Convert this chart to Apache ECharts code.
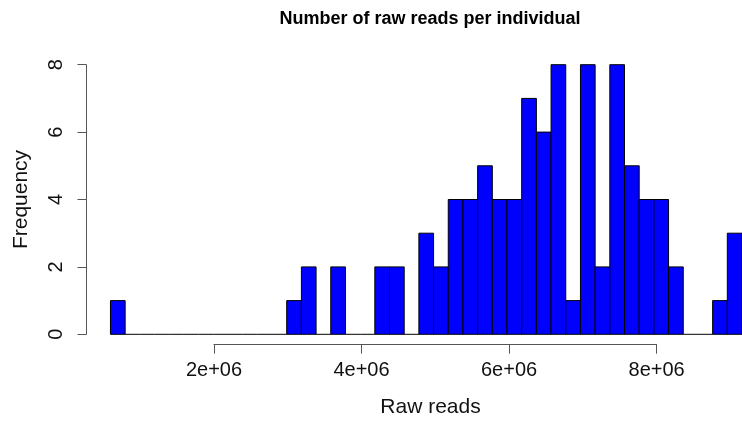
<!DOCTYPE html>
<html>
<head>
<meta charset="utf-8">
<style>html,body{margin:0;padding:0;background:#fff;}#c{width:742px;height:421px;}</style>
<script src="https://cdn.jsdelivr.net/npm/echarts@6/dist/echarts.min.js"></script>
</head>
<body>
<div id="c"></div>
<script>
// Histogram bins (start of each bin, raw reads); each bin is 200,000 wide
const binStarts = [600000, 800000, 1000000, 1200000, 1400000, 1600000, 1800000, 2000000, 2200000, 2400000,
  2600000, 2800000, 3000000, 3200000, 3400000, 3600000, 3800000, 4000000, 4200000, 4400000,
  4600000, 4800000, 5000000, 5200000, 5400000, 5600000, 5800000, 6000000, 6200000, 6400000,
  6600000, 6800000, 7000000, 7200000, 7400000, 7600000, 7800000, 8000000, 8200000, 8400000,
  8600000, 8800000, 9000000];
const binWidth = 200000;
const counts = [1, 0, 0, 0, 0, 0, 0, 0, 0, 0,
  0, 0, 1, 2, 0, 2, 0, 0, 2, 2,
  0, 3, 2, 4, 4, 5, 4, 4, 7, 6,
  8, 1, 8, 2, 8, 5, 4, 4, 2, 0,
  0, 1, 3];
const xTicks = [2000000, 4000000, 6000000, 8000000];
const yTicks = [0, 2, 4, 6, 8];

const titleText = 'Number of raw reads per individual';
const xName = 'Raw reads';
const yName = 'Frequency';

const histData = binStarts.map((s, i) => [s, s + binWidth, counts[i]]);

function fmtSci(v) {
  const e = Math.floor(Math.log10(v));
  const m = v / Math.pow(10, e);
  return m + 'e+' + (e < 10 ? '0' + e : e);
}

const chart = echarts.init(document.getElementById('c'), null, {renderer: 'canvas'});
const font = '"Liberation Sans", Arial, Helvetica, sans-serif';
const axisGray = '#555';

chart.setOption({
  animation: false,
  backgroundColor: '#ffffff',
  graphic: [
    {type: 'text', left: 'center', top: 0, silent: true, invisible: true, style: {text: ''}},
    {type: 'text', x: 430, y: 19, silent: true,
      style: {text: titleText, textAlign: 'center', textVerticalAlign: 'middle',
        font: 'bold 18px ' + font, fill: '#000'}},
    {type: 'text', x: 430.5, y: 407, silent: true,
      style: {text: xName, textAlign: 'center', textVerticalAlign: 'middle',
        font: '21px ' + font, fill: '#111'}}
  ],
  grid: [
    {left: 66.4, right: -3.1, top: 64.7, bottom: 86.7, containLabel: false},
    {left: 214, right: 85.4, top: 64.7, bottom: 86.7, containLabel: false}
  ],
  xAxis: [
    {gridIndex: 0, type: 'value', min: 0, max: 9200000, show: false},
    {gridIndex: 1, type: 'value', min: xTicks[0], max: xTicks[xTicks.length - 1], interval: 2000000,
      offset: 10.4,
      axisLine: {show: true, onZero: false, lineStyle: {color: axisGray, width: 1}},
      axisTick: {show: true, inside: false, length: 9, lineStyle: {color: axisGray}},
      splitLine: {show: false},
      axisLabel: {show: true, margin: 16, fontFamily: font, fontSize: 20, color: '#111',
        formatter: v => fmtSci(v), showMinLabel: true, showMaxLabel: true}
    }
  ],
  yAxis: [
    {gridIndex: 0, type: 'value', min: yTicks[0], max: yTicks[yTicks.length - 1], interval: 2,
      offset: -19.6,
      axisLine: {show: true, onZero: false, lineStyle: {color: axisGray, width: 1}},
      axisTick: {show: true, inside: false, length: 8.5, lineStyle: {color: axisGray}},
      splitLine: {show: false},
      axisLabel: {show: true, rotate: 90, margin: 20, fontFamily: font, fontSize: 20, color: '#111'},
      name: yName, nameLocation: 'middle', nameGap: 54, nameRotate: 90,
      nameTextStyle: {fontFamily: font, fontSize: 21, color: '#111'}
    },
    {gridIndex: 1, type: 'value', min: 0, max: 8, show: false}
  ],
  series: [{
    type: 'custom',
    xAxisIndex: 0, yAxisIndex: 0,
    clip: false,
    data: histData,
    encode: {x: [0, 1], y: 2},
    renderItem: function (params, api) {
      const p0 = api.coord([api.value(0), 0]);
      const p1 = api.coord([api.value(1), api.value(2)]);
      if (api.value(2) === 0) {
        return {type: 'line', shape: {x1: p0[0], y1: p0[1], x2: p1[0], y2: p0[1]},
          style: {stroke: '#000', lineWidth: 1}};
      }
      return {
        type: 'rect',
        shape: {x: p0[0], y: p1[1], width: p1[0] - p0[0], height: p0[1] - p1[1]},
        style: {fill: '#0000ff', stroke: '#000', lineWidth: 1}
      };
    }
  }]
});
</script>
</body>
</html>
